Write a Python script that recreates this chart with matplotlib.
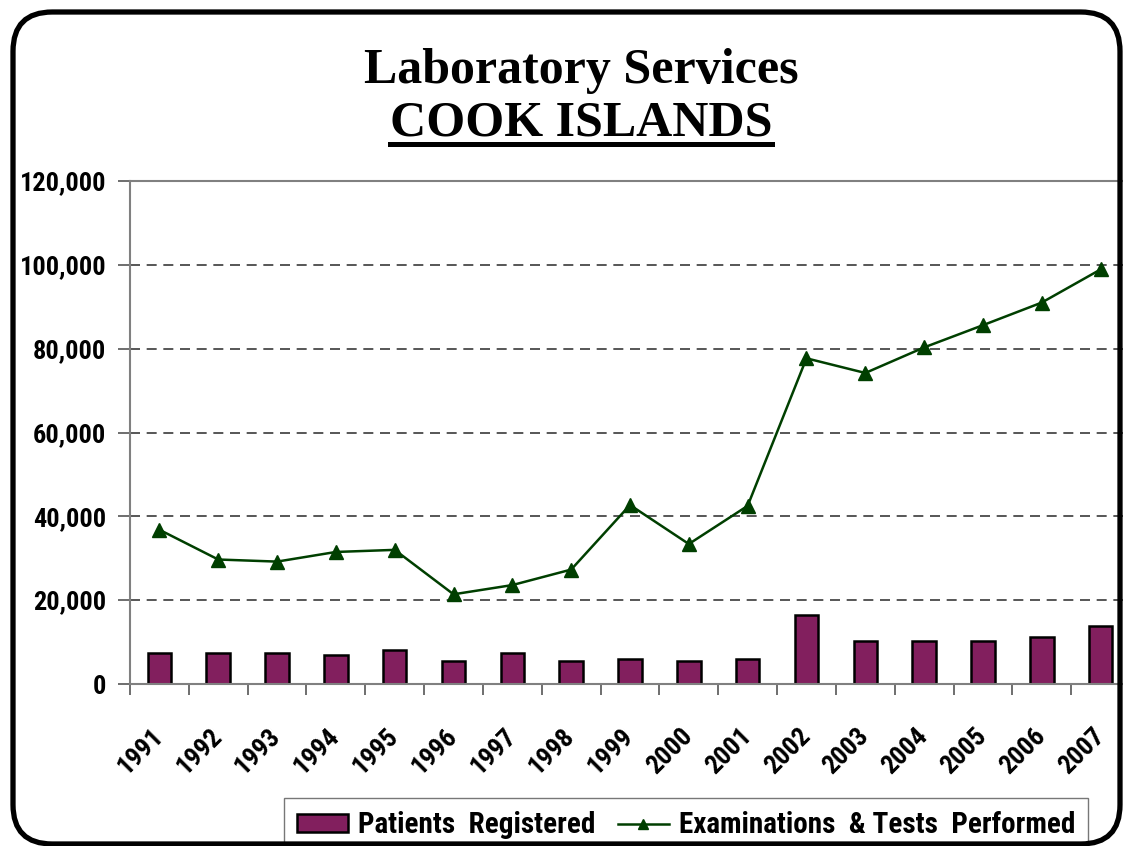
import matplotlib
matplotlib.use("Agg")
import matplotlib.pyplot as plt
from matplotlib.patches import FancyBboxPatch
from matplotlib.lines import Line2D
from matplotlib.ticker import FuncFormatter, MultipleLocator
import numpy as np

years = ["1991", "1992", "1993", "1994", "1995", "1996", "1997", "1998", "1999",
         "2000", "2001", "2002", "2003", "2004", "2005", "2006", "2007"]
patients = [7300, 7300, 7300, 6800, 8200, 5500, 7400, 5500, 6000,
            5500, 5900, 16500, 10200, 10200, 10200, 11200, 13900]
exams = [36800, 29700, 29200, 31500, 32000, 21400, 23600, 27300, 42700,
         33400, 42500, 77700, 74200, 80300, 85600, 91000, 98900]

W, H = 1123, 846
fig = plt.figure(figsize=(W / 100, H / 100), dpi=100)
fig.patch.set_facecolor("white")

NARROW = ["Roboto Condensed", "Archivo Narrow", "PT Sans Narrow", "DejaVu Sans"]

ax = fig.add_axes([130 / W, 1 - 684 / H, 1000 / W, (684 - 181) / H])
x = np.arange(len(years))
bars = ax.bar(x, patients, width=0.4, color="#821F5E", edgecolor="black",
              linewidth=1.8, zorder=2, label="Patients  Registered")
line, = ax.plot(x, exams, color="#003F00", linewidth=1.8, marker="^", markersize=10.5,
                markerfacecolor="#003F00", markeredgecolor="#003F00", zorder=3,
                label="Examinations  & Tests  Performed")

ax.set_xlim(-0.5, len(years) - 0.5)
ax.set_ylim(0, 120000)
ax.yaxis.set_major_locator(MultipleLocator(20000))
ax.yaxis.set_major_formatter(FuncFormatter(lambda v, p: f"{int(v):,}"))
ax.grid(axis="y", color="#3a3a3a", linestyle=(0, (6, 4)), linewidth=1.2, zorder=0)
ax.set_axisbelow(True)

for s in ["left", "bottom", "top"]:
    ax.spines[s].set_color("#808080")
    ax.spines[s].set_linewidth(1.5)
ax.spines["right"].set_visible(False)

ax.set_xticks(x)
ax.set_xticklabels(years)
ax.set_xticks(np.arange(-0.5, len(years), 1.0), minor=True)
ax.tick_params(axis="x", which="major", length=0, pad=35)
ax.tick_params(axis="x", which="minor", length=8, width=1.2, color="#555555", direction="out")
ax.tick_params(axis="y", length=9, width=1.2, color="#555555", direction="out", pad=8)

for lbl in ax.get_yticklabels():
    lbl.set_fontfamily(NARROW)
    lbl.set_fontweight("bold")
    lbl.set_fontsize(19)
for lbl in ax.get_xticklabels():
    lbl.set_fontfamily(NARROW)
    lbl.set_fontweight("bold")
    lbl.set_fontsize(19)
    lbl.set_rotation(45)
    lbl.set_ha("right")
    lbl.set_va("center")
    lbl.set_rotation_mode("anchor")

# titles
t1 = fig.text(581 / W, 1 - 83 / H, "Laboratory Services", ha="center", va="baseline",
              fontfamily="Liberation Serif", fontweight="bold", fontsize=36)
t2 = fig.text(581 / W, 1 - 136 / H, "COOK ISLANDS", ha="center", va="baseline",
              fontfamily="Liberation Serif", fontweight="bold", fontsize=36)
fig.canvas.draw()
bb = t2.get_window_extent()
uy = 1 - 144.5 / H
fig.add_artist(Line2D([bb.x0 / W, bb.x1 / W], [uy, uy], color="black", linewidth=3.6,
                      transform=fig.transFigure))

# legend
leg = fig.legend(handles=[bars, line], loc="upper left", bbox_to_anchor=(284 / W, 1 - 798 / H),
                 borderaxespad=0, ncol=2, frameon=True, fancybox=False, edgecolor="#555555",
                 prop={"family": NARROW, "weight": "bold", "size": 21},
                 handlelength=1.75, handleheight=0.55, columnspacing=0.75,
                 handletextpad=0.35, borderpad=0.45, markerscale=0.7)
leg.get_frame().set_linewidth(1.0)

# outer rounded frame
frame = FancyBboxPatch((13 / W, 2 / H), (1120 - 13) / W, (834 - 2 + 0) / H,
                       boxstyle="round,pad=0,rounding_size=0.035",
                       transform=fig.transFigure, fill=False, edgecolor="black",
                       linewidth=3.8, zorder=10, mutation_aspect=W / H)
fig.add_artist(frame)

fig.savefig("out.png", dpi=100, facecolor="white")
